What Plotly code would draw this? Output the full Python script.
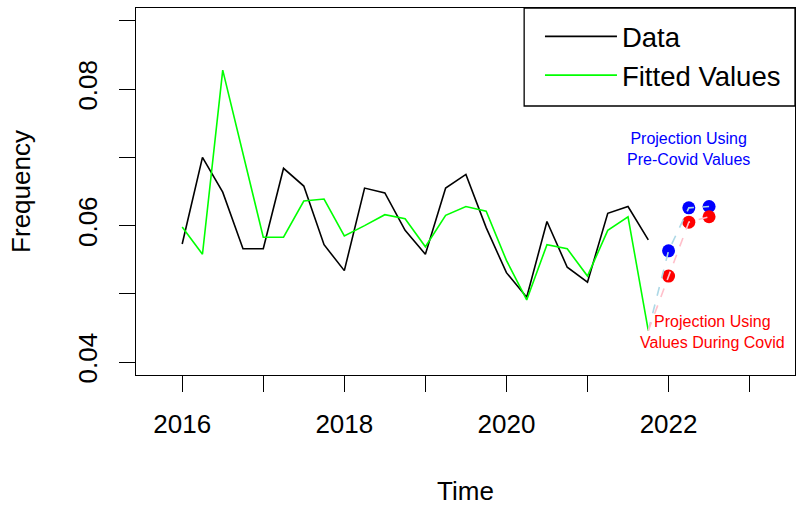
import plotly.graph_objects as go

# Quarterly time index 2016 Q1 .. 2021 Q4
time = [2016 + 0.25 * i for i in range(24)]

data_vals = [0.0573, 0.0700, 0.0649, 0.0566, 0.0566, 0.0684, 0.0658, 0.0572,
             0.0534, 0.0655, 0.0648, 0.0593, 0.0558, 0.0655, 0.0675, 0.0597,
             0.0531, 0.0495, 0.0606, 0.0539, 0.0517, 0.0618, 0.0628, 0.0579]

fitted_vals = [0.0598, 0.0558, 0.0828, 0.0707, 0.0583, 0.0583, 0.0636, 0.0639,
               0.0585, 0.0600, 0.0616, 0.0610, 0.0569, 0.0615, 0.0628, 0.0621,
               0.0549, 0.0491, 0.0572, 0.0566, 0.0526, 0.0593, 0.0613, 0.0446]

proj_time = [2022.0, 2022.25, 2022.5]
proj_precovid = [0.0563, 0.0626, 0.0628]
proj_covid = [0.0526, 0.0605, 0.0613]

x_ticks = [2016, 2017, 2018, 2019, 2020, 2021, 2022, 2023]
x_labels = ["2016", "", "2018", "", "2020", "", "2022", ""]
y_ticks = [0.04, 0.05, 0.06, 0.07, 0.08, 0.09]
y_labels = ["0.04", "", "0.06", "", "0.08", ""]

FONT = "Liberation Sans, Arial, sans-serif"

fig = go.Figure()

fig.add_trace(go.Scatter(x=time, y=data_vals, mode="lines", name="Data",
                         line=dict(color="black", width=1.6)))
fig.add_trace(go.Scatter(x=time, y=fitted_vals, mode="lines", name="Fitted Values",
                         line=dict(color="#00FF00", width=1.6)))

fig.add_trace(go.Scatter(x=proj_time, y=proj_precovid, mode="markers", showlegend=False,
                         marker=dict(color="blue", size=13)))
fig.add_trace(go.Scatter(x=proj_time, y=proj_covid, mode="markers", showlegend=False,
                         marker=dict(color="red", size=13)))

fig.add_trace(go.Scatter(x=[time[-1]] + proj_time, y=[fitted_vals[-1]] + proj_precovid,
                         mode="lines", showlegend=False,
                         line=dict(color="#ADD8E6", width=1.6, dash="dash")))
fig.add_trace(go.Scatter(x=[time[-1]] + proj_time, y=[fitted_vals[-1]] + proj_covid,
                         mode="lines", showlegend=False,
                         line=dict(color="#FFC0CB", width=1.6, dash="dash")))

fig.add_annotation(x=2022.25, y=0.0713, text="Projection Using<br>Pre-Covid Values",
                   showarrow=False, font=dict(family=FONT, size=16, color="blue"))
fig.add_annotation(x=2022.54, y=0.0444, text="Projection Using<br>Values During Covid",
                   showarrow=False, font=dict(family=FONT, size=16, color="red"))

# legend frame (R-style box flush with the plot's top-right corner)
fig.add_shape(type="rect", xref="paper", yref="paper", x0=0.589, x1=1.0, y0=0.733, y1=1.0,
              line=dict(color="black", width=1.3), fillcolor="white", layer="above")

fig.update_layout(
    width=801, height=506,
    margin=dict(l=136, r=6, t=8, b=131),
    paper_bgcolor="white", plot_bgcolor="white",
    font=dict(family=FONT, size=26, color="black"),
    showlegend=True,
    legend=dict(x=0.613, xanchor="left", y=0.989, yanchor="top",
                bgcolor="rgba(0,0,0,0)", borderwidth=0,
                font=dict(size=27.5), itemwidth=72,
                tracegroupgap=0),
    xaxis=dict(range=[2015.43, 2023.56], showline=True, linecolor="black", linewidth=1.3,
               mirror=True, ticks="outside", ticklen=16, tickcolor="black",
               tickvals=x_ticks, ticktext=x_labels, showgrid=False, zeroline=False,
               ticklabelstandoff=10, automargin=False,
               title=dict(text="Time", standoff=43, font=dict(size=26))),
    yaxis=dict(range=[0.0381, 0.0919], showline=True, linecolor="black", linewidth=1.3,
               mirror=True, ticks="outside", ticklen=16, tickcolor="black",
               tickvals=y_ticks, ticktext=y_labels, tickangle=-90,
               showgrid=False, zeroline=False, ticklabelstandoff=11, automargin=False,
               title=dict(text="Frequency", standoff=35, font=dict(size=26))),
)

fig.write_html("out.html", config={"displayModeBar": False},
               post_script="document.body.style.margin='0';document.body.style.overflow='hidden';")
